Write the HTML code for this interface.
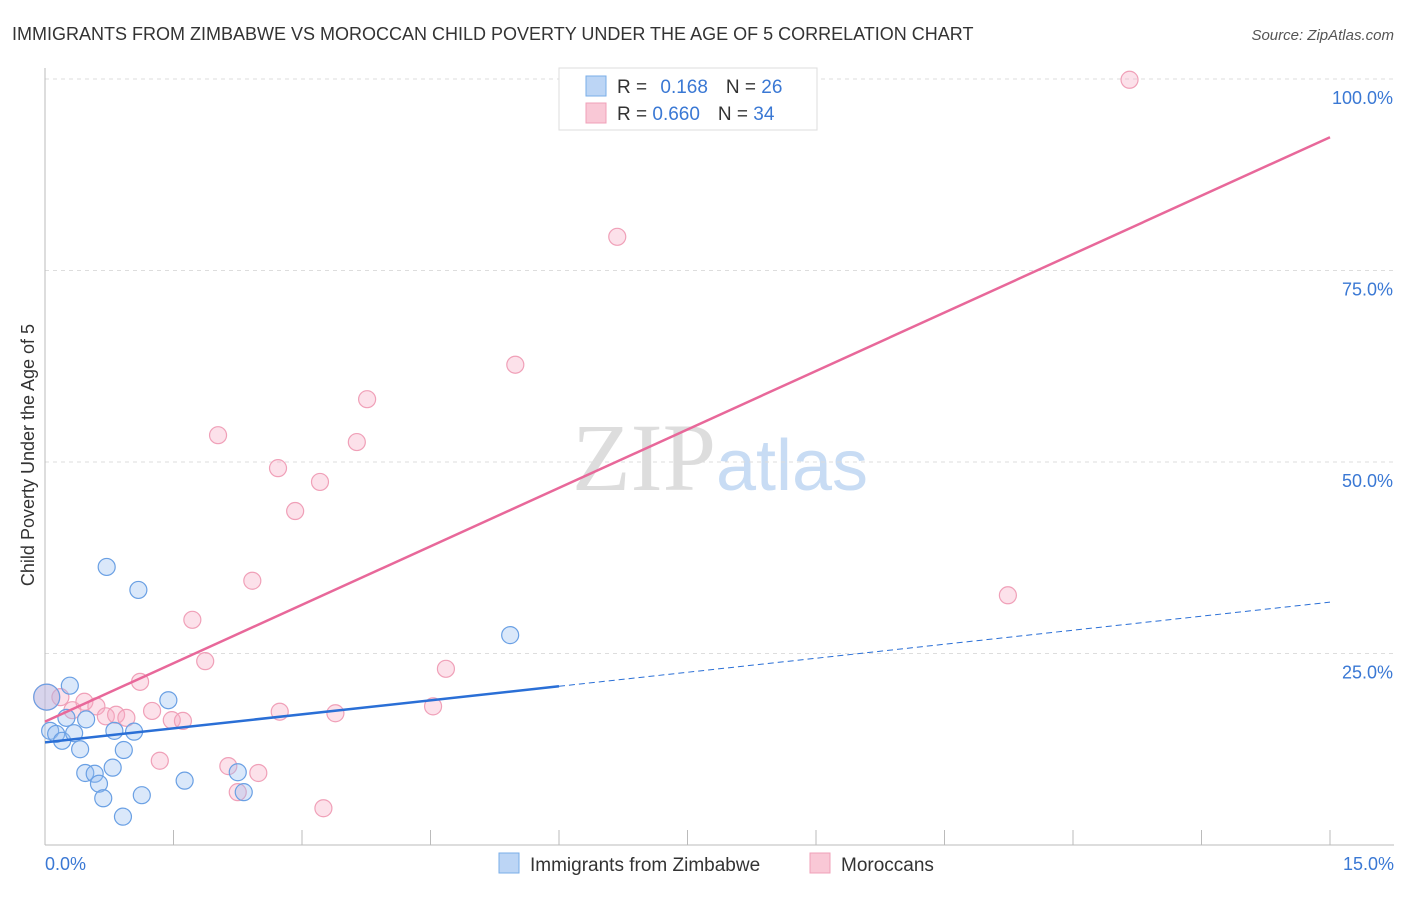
<!DOCTYPE html>
<html><head><meta charset="utf-8"><style>
body{margin:0;background:#fff;font-family:"Liberation Sans",sans-serif}
</style></head><body>
<svg id="c" width="1406" height="892" xmlns="http://www.w3.org/2000/svg">
<text x="12" y="40" font-size="18" fill="#333">IMMIGRANTS FROM ZIMBABWE VS MOROCCAN CHILD POVERTY UNDER THE AGE OF 5 CORRELATION CHART</text>
<text x="1394" y="40" font-size="15" fill="#555" font-style="italic" text-anchor="end">Source: ZipAtlas.com</text>
<text x="720" y="490" font-size="96" fill="#ddd" text-anchor="middle" font-family="Liberation Serif,serif">ZIP<tspan fill="#c8dcf4" font-family="Liberation Sans,sans-serif" font-size="72">atlas</tspan></text>
<g id="grid"></g><g id="pts"></g><g id="lines"></g>
<text transform="translate(34,455) rotate(-90)" font-size="18" fill="#333" text-anchor="middle">Child Poverty Under the Age of 5</text>
<g>
<rect x="559" y="68" width="258" height="62" fill="#fff" stroke="#ddd"/>
<rect x="586" y="76" width="20" height="20" fill="#bcd5f5" stroke="#7aaee8"/>
<text x="617" y="93" font-size="19" fill="#333">R = <tspan fill="#3a78d4" dx="8">0.168</tspan><tspan dx="18" fill="#333">N = </tspan><tspan fill="#3a78d4">26</tspan></text>
<rect x="586" y="103" width="20" height="20" fill="#f9c8d6" stroke="#f0a0b8"/>
<text x="617" y="120" font-size="19" fill="#333">R = <tspan fill="#3a78d4">0.660</tspan><tspan dx="18" fill="#333">N = </tspan><tspan fill="#3a78d4">34</tspan></text>
</g>
<g>
<rect x="499" y="853" width="20" height="20" fill="#bcd5f5" stroke="#7aaee8"/>
<text x="530" y="871" font-size="19" fill="#333">Immigrants from Zimbabwe</text>
<rect x="810" y="853" width="20" height="20" fill="#f9c8d6" stroke="#f0a0b8"/>
<text x="841" y="871" font-size="19" fill="#333">Moroccans</text>
</g>
</svg>
<script>
const yTicks=[25,50,75,100];
const yTickLabels=["25.0%","50.0%","75.0%","100.0%"];
const xTickLabels=["0.0%","15.0%"];
const blueX=[0.02,0.06,0.13,0.20,0.29,0.25,0.34,0.41,0.48,0.47,0.58,0.63,0.68,0.72,0.79,0.81,0.91,0.92,1.04,1.09,1.13,1.44,1.63,2.25,2.32,5.43];
const blueY=[19.3,14.9,14.5,13.6,20.8,16.6,14.6,12.5,16.4,9.4,9.3,8.0,6.1,36.3,10.1,14.9,3.7,12.4,14.8,33.3,6.5,18.9,8.4,9.5,6.9,27.4];
const pinkX=[0.02,0.18,0.32,0.46,0.60,0.71,0.83,0.95,1.11,1.25,1.34,1.48,1.61,1.72,1.87,2.02,2.14,2.25,2.42,2.49,2.72,2.74,2.92,3.21,3.25,3.39,3.64,3.76,4.53,4.68,5.49,6.68,11.24,12.66];
const pinkY=[19.3,19.3,17.6,18.7,18.1,16.8,17.0,16.6,21.3,17.5,11.0,16.3,16.2,29.4,24.0,53.5,10.3,6.9,34.5,9.4,49.2,17.4,43.6,47.4,4.8,17.2,52.6,58.2,18.1,23.0,62.7,79.4,32.6,99.9];
const blueLine=[13.4,31.7]; // y at x=0 and x=15
const pinkLine=[16.1,92.4];
const X=v=>45+v/15*1285, Y=v=>845-v/100*766;
const NS="http://www.w3.org/2000/svg";
function mk(p,t,a){const e=document.createElementNS(NS,t);for(const k in a)e.setAttribute(k,a[k]);p.appendChild(e);return e;}
const g=document.getElementById('grid');
yTicks.forEach((t,i)=>{const l=mk(g,'line',{x1:45,x2:1394,y1:Y(t),y2:Y(t),stroke:'#ddd','stroke-dasharray':'4,4'});

const tx=mk(g,'text',{x:1393,y:Y(t)+25,'font-size':18,fill:'#3a78d4','text-anchor':'end'});tx.textContent=yTickLabels[i];
});
const gl=mk(g,'line',{x1:45,x2:1394,y1:Y(100),y2:Y(100),stroke:'#ddd','stroke-dasharray':'4,4'});
const ax=mk(g,'line',{x1:45,x2:45,y1:68,y2:845,stroke:'#bbb'});

const bx=mk(g,'line',{x1:45,x2:1394,y1:845,y2:845,stroke:'#bbb'});

for(let i=0;i<=10;i++){const t=mk(g,'line',{x1:X(i*1.5),x2:X(i*1.5),y1:830,y2:845,stroke:'#bbb'});
}
const xl0=mk(g,'text',{x:45,y:870,'font-size':18,fill:'#3a78d4'});xl0.textContent=xTickLabels[0];

const xl1=mk(g,'text',{x:1394,y:870,'font-size':18,fill:'#3a78d4','text-anchor':'end'});xl1.textContent=xTickLabels[1];

const p=document.getElementById('pts');
function pts(xs,ys,fill,st,name){xs.forEach((x,i)=>{const c=mk(p,'circle',{cx:X(x),cy:Y(ys[i]),r:i==0?13:8.5,fill:fill,stroke:st,'stroke-width':1.2});
});}
pts(pinkX,pinkY,'rgba(245,170,195,0.35)','#f0a0b8','moroccan-point');
pts(blueX,blueY,'rgba(150,190,240,0.35)','#6aa0e4','zimbabwe-point');
const L=document.getElementById('lines');
const by=x=>blueLine[0]+(blueLine[1]-blueLine[0])*x/15;
const b1=mk(L,'line',{x1:X(0),y1:Y(by(0)),x2:X(6),y2:Y(by(6)),stroke:'#2a6fd6','stroke-width':2.5});

const b2=mk(L,'line',{x1:X(6),y1:Y(by(6)),x2:X(15),y2:Y(by(15)),stroke:'#2a6fd6','stroke-width':1,'stroke-dasharray':'6,4'});

const pl=mk(L,'line',{x1:X(0),y1:Y(pinkLine[0]),x2:X(15),y2:Y(pinkLine[1]),stroke:'#e8689a','stroke-width':2.5});

</script>
</body></html>
